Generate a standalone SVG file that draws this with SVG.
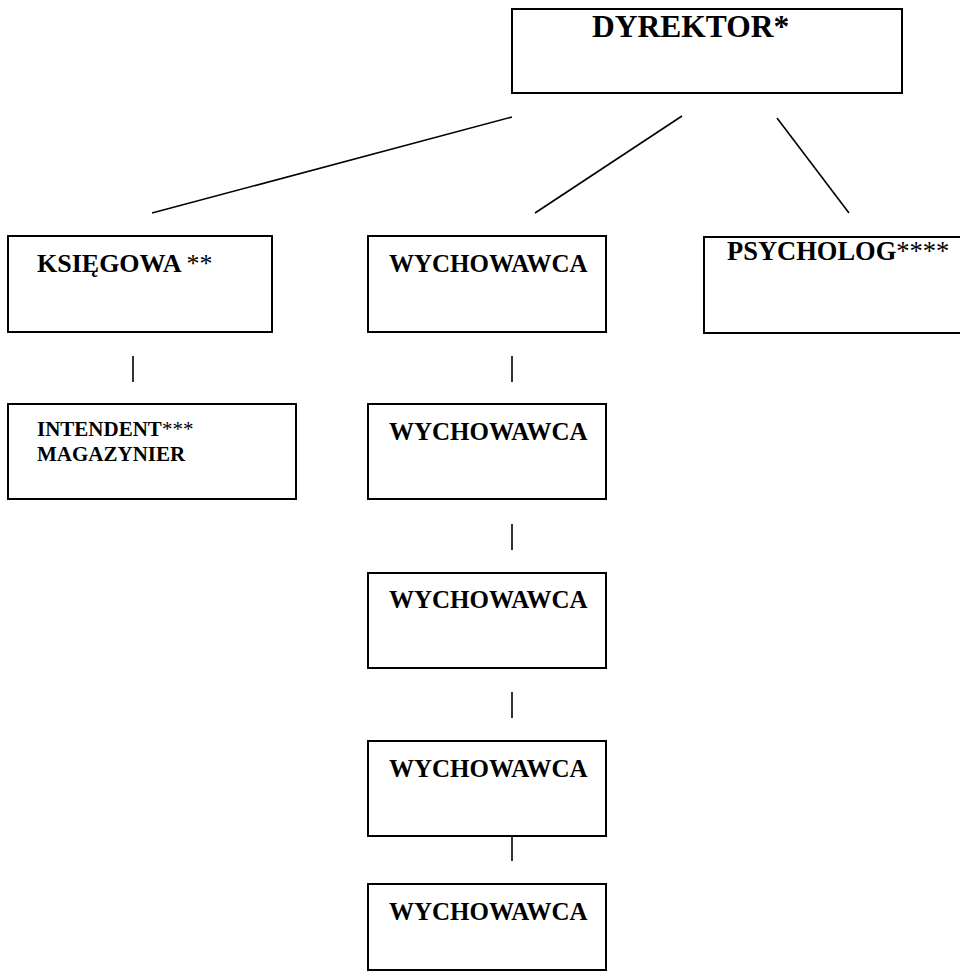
<svg xmlns="http://www.w3.org/2000/svg" width="960" height="976" viewBox="0 0 960 976">
<style>
.box{fill:#fff;stroke:#000;stroke-width:2}
.t{font-family:"Liberation Serif","Times New Roman",serif;font-weight:bold;font-size:25px;fill:#000}
.s{font-weight:normal}
.conn line{stroke:#000;stroke-width:1.6}
</style>
<rect width="960" height="976" fill="#fff"/>
<g id="dyrektor"><rect class="box" x="512" y="9" width="390" height="84"/><text class="t" x="592" y="37" style="font-size:31.5px">DYREKTOR*</text></g>
<g id="ksiegowa"><rect class="box" x="8" y="236" width="264" height="96"/><text class="t" x="37" y="272" style="font-size:26px">KSIĘGOWA <tspan class="s">**</tspan></text></g>
<g id="wych1"><rect class="box" x="368" y="236" width="238" height="96"/><text class="t" x="389" y="272">WYCHOWAWCA</text></g>
<g id="psycholog"><rect class="box" x="704" y="237" width="260" height="96"/><text class="t" x="727" y="260" style="font-size:26.5px">PSYCHOLOG<tspan class="s">****</tspan></text></g>
<g id="intendent"><rect class="box" x="8" y="404" width="288" height="95"/><text class="t" x="37" y="436" style="font-size:21px">INTENDENT<tspan class="s">***</tspan></text><text class="t" x="37" y="461" style="font-size:21px">MAGAZYNIER</text></g>
<g id="wych2"><rect class="box" x="368" y="404" width="238" height="95"/><text class="t" x="389" y="440">WYCHOWAWCA</text></g>
<g id="wych3"><rect class="box" x="368" y="573" width="238" height="95"/><text class="t" x="389" y="608">WYCHOWAWCA</text></g>
<g id="wych4"><rect class="box" x="368" y="741" width="238" height="95"/><text class="t" x="389" y="777">WYCHOWAWCA</text></g>
<g id="wych5"><rect class="box" x="368" y="884" width="238" height="86"/><text class="t" x="389" y="920">WYCHOWAWCA</text></g>
<g id="connectors" class="conn">
<line x1="512" y1="117" x2="152" y2="213"/>
<line x1="682" y1="116" x2="535" y2="213"/>
<line x1="777" y1="118" x2="849" y2="213"/>
<line x1="133" y1="356" x2="133" y2="382"/>
<line x1="512" y1="356" x2="512" y2="382"/>
<line x1="512" y1="524" x2="512" y2="550"/>
<line x1="512" y1="692" x2="512" y2="718"/>
<line x1="512" y1="836" x2="512" y2="861"/>
</g>
</svg>
